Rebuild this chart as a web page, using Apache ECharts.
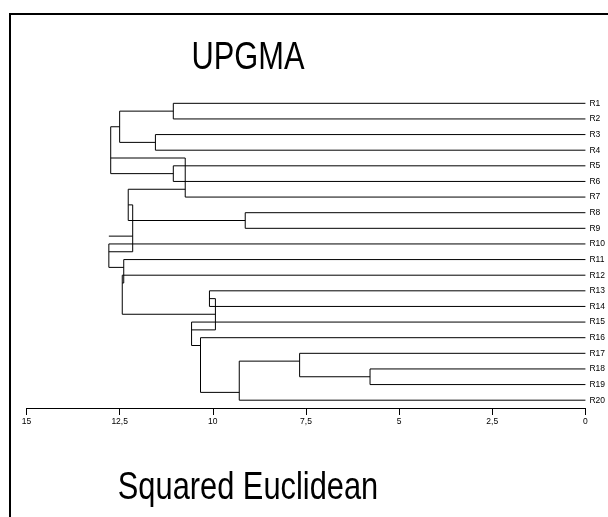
<!DOCTYPE html>
<html><head><meta charset="utf-8">
<script src="https://cdn.jsdelivr.net/npm/echarts@6/dist/echarts.min.js"></script>
<style>html,body{margin:0;padding:0;background:#fff}#c{width:608px;height:517px}</style>
</head><body><div id="c"></div>
<script>
// Leaves (top to bottom)
var leaves = ['R1','R2','R3','R4','R5','R6','R7','R8','R9','R10','R11','R12','R13','R14','R15','R16','R17','R18','R19','R20'];
// Merges: [node, child1, child2, distance]
var merges = [
  ['A','R1','R2',11.06],
  ['B','R3','R4',11.54],
  ['C','A','B',12.50],
  ['D','R5','R6',11.06],
  ['E','C','D',12.74],
  ['F','E','R7',10.74],
  ['N','R8','R9',9.13],
  ['G','F','N',12.27],
  ['H','R18','R19',5.78],
  ['I','R17','H',7.67],
  ['J','I','R20',9.29],
  ['K','R16','J',10.33],
  ['L','R15','K',10.57],
  ['W','R13','R14',10.09],
  ['V','W','L',9.93],
  ['U','R12','V',12.43],
  ['S','R11','U',12.39],
  ['Q','R10','S',12.79],
  ['P','G','Q',12.15]
];
var rootNode = 'P';
var rootStubEnd = 12.79;
var xTicks = [0, 2.5, 5, 7.5, 10, 12.5, 15];
var titleText = 'UPGMA';
var xTitleText = 'Squared Euclidean';

// build geometry in data units
var info = {};
leaves.forEach(function(n,i){ info[n] = {h:0, stem:i, lo:i, hi:i}; });
var segs = [];
merges.forEach(function(m){
  var a = info[m[1]], b = info[m[2]], h = m[3];
  var stem = (a.hi + b.lo) / 2;
  info[m[0]] = {h:h, stem:stem, lo:Math.min(a.lo,b.lo), hi:Math.max(a.hi,b.hi)};
  segs.push([a.h, a.stem, h, a.stem]);
  segs.push([b.h, b.stem, h, b.stem]);
  segs.push([h, a.stem, h, b.stem]);
});
segs.push([info[rootNode].h, info[rootNode].stem, rootStubEnd, info[rootNode].stem]);

var sans = '"Liberation Sans", Arial, sans-serif';
var chart = echarts.init(document.getElementById('c'), null, {renderer:'canvas'});
chart.setOption({
  animation: false,
  backgroundColor: '#fff',
  grid: {left: 26.5, right: 19, top: 95.5, bottom: 109},
  xAxis: {
    type: 'value', inverse: true, min: 0, max: 15, interval: 2.5,
    position: 'bottom',
    axisLine: {show: true, onZero: false, lineStyle: {color: '#000', width: 1}},
    axisTick: {show: true, length: 7, lineStyle: {color: '#000'}},
    splitLine: {show: false},
    axisLabel: {
      color: '#000', fontSize: 8.5, fontFamily: sans, margin: 9,
      formatter: function(v){ return xTicks.indexOf(v) >= 0 ? String(v).replace('.', ',') : ''; }
    }
  },
  yAxis: [
    {type: 'value', inverse: true, min: -0.5, max: 19.5, show: false},
    {type: 'category', data: leaves, inverse: true, position: 'right', boundaryGap: true,
     axisLine: {show: false}, axisTick: {show: false},
     axisLabel: {color: '#000', fontSize: 8.5, fontFamily: sans, margin: 4, align: 'left'}}
  ],
  series: [{
    type: 'custom',
    coordinateSystem: 'cartesian2d',
    yAxisIndex: 0,
    data: segs,
    encode: {x: [0, 2], y: [1, 3]},
    renderItem: function(params, api){
      var p1 = api.coord([api.value(0), api.value(1)]);
      var p2 = api.coord([api.value(2), api.value(3)]);
      return {type: 'line', shape: {x1: p1[0], y1: p1[1], x2: p2[0], y2: p2[1]},
              style: {stroke: '#000', lineWidth: 1}};
    },
    silent: true
  }],
  graphic: [
    {type: 'rect', shape: {x: 10, y: 14, width: 640, height: 540},
     style: {fill: null, stroke: '#000', lineWidth: 2}, silent: true},
    {type: 'text', x: 248, y: 77.5, scaleX: 0.79, style: {text: titleText, font: '39px ' + sans,
     fill: '#000', textAlign: 'center', textVerticalAlign: 'bottom'}},
    {type: 'text', x: 248, y: 507.5, scaleX: 0.79, style: {text: xTitleText, font: '39px ' + sans,
     fill: '#000', textAlign: 'center', textVerticalAlign: 'bottom'}}
  ]
});
</script></body></html>
